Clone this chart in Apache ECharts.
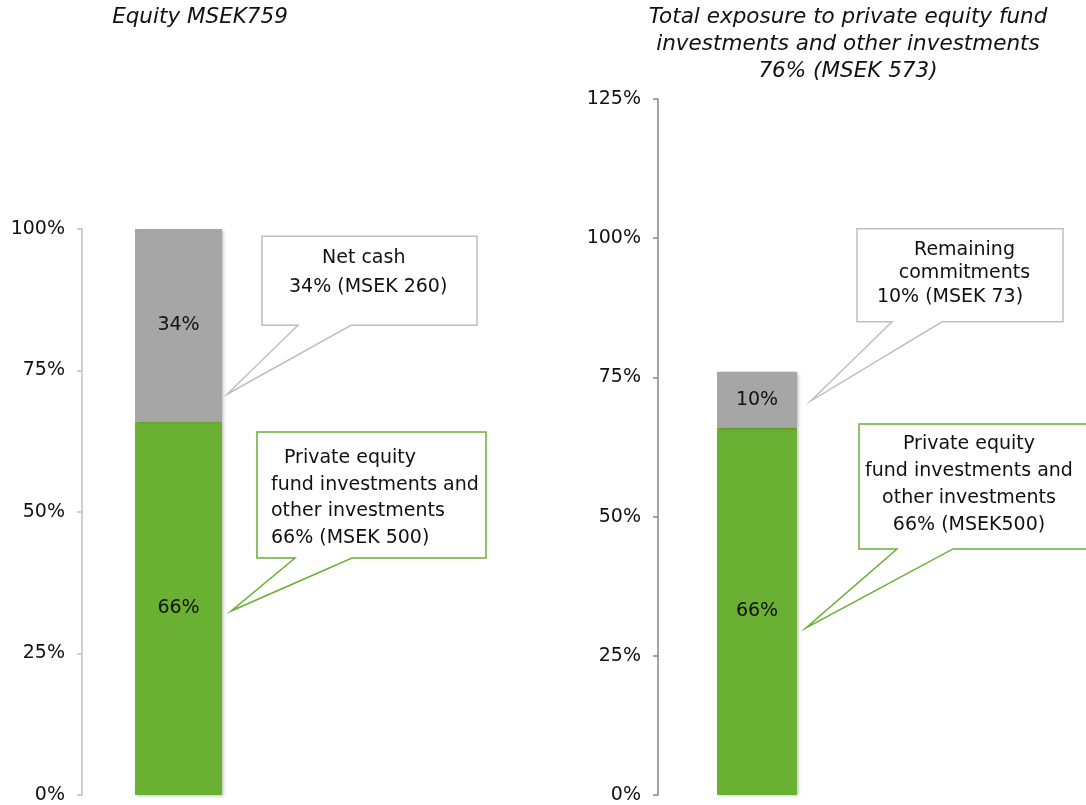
<!DOCTYPE html>
<html>
<head>
<meta charset="utf-8">
<script src="https://cdn.jsdelivr.net/npm/echarts@6/dist/echarts.min.js"></script>
<style>html,body{margin:0;padding:0;background:#fff}#c{width:1086px;height:805px}</style>
</head>
<body>
<div id="c"></div>
<script>
// ---- data ----
const leftCategories = ['Equity'];
const rightCategories = ['Exposure'];
const leftPrivateEquity = [66];
const leftNetCash = [34];
const rightPrivateEquity = [66];
const rightCommitments = [10];
const leftTicks = [0, 25, 50, 75, 100];
const rightTicks = [0, 25, 50, 75, 100, 125];

const titleLeft = 'Equity MSEK759';
const titleRight = 'Total exposure to private equity fund\ninvestments and other investments\n76% (MSEK 573)';

const GREEN = '#6AB032';
const GRAY = '#A6A6A6';
const TXT = '#111111';
const FONT = '"DejaVu Sans", Verdana, sans-serif';
const FS = 19;

const chart = echarts.init(document.getElementById('c'));

function yAxis(gi, max, color) {
  return {
    type: 'value', gridIndex: gi, min: 0, max: max, interval: 25,
    splitLine: { show: false },
    axisLine: { show: true, lineStyle: { color: color, width: 1.5 } },
    axisTick: { show: true, length: 5, lineStyle: { color: color, width: 1.5 } },
    axisLabel: { formatter: '{value}%', color: TXT, fontSize: FS, fontFamily: FONT, margin: 17 }
  };
}
function barSeries(name, xi, stack, data, color) {
  return {
    name: name, type: 'bar', xAxisIndex: xi, yAxisIndex: xi, stack: stack,
    data: data, barWidth: xi === 0 ? 87 : 80,
    itemStyle: { color: color, shadowColor: 'rgba(0,0,0,0.25)', shadowBlur: 3, shadowOffsetX: 1.5, shadowOffsetY: 1 },
    label: { show: true, position: 'inside', formatter: '{c}%', color: TXT, fontSize: FS, fontFamily: FONT },
    emphasis: { disabled: true }
  };
}

chart.setOption({
  animation: false,
  grid: [
    { left: 82, top: 229, width: 193, bottom: 10, containLabel: false },
    { left: 658, top: 99, width: 198, bottom: 10, containLabel: false }
  ],
  xAxis: [
    { type: 'category', gridIndex: 0, data: leftCategories, show: false },
    { type: 'category', gridIndex: 1, data: rightCategories, show: false }
  ],
  yAxis: [yAxis(0, leftTicks[leftTicks.length - 1], '#BFBFBF'), yAxis(1, rightTicks[rightTicks.length - 1], '#868686')],
  series: [
    barSeries('Private equity', 0, 'L', leftPrivateEquity, GREEN),
    barSeries('Net cash', 0, 'L', leftNetCash, GRAY),
    barSeries('Private equity', 1, 'R', rightPrivateEquity, GREEN),
    barSeries('Remaining commitments', 1, 'R', rightCommitments, GRAY)
  ]
});

// ---- callouts anchored to the bars ----
function callout(gi, cat, value, tipDx, box, tail, color) {
  const p = chart.convertToPixel({ gridIndex: gi }, [cat, value]);
  const tx = p[0] + tipDx, ty = p[1];
  const x1 = tx + box[0], x2 = tx + box[1], y1 = ty + box[2], y2 = ty + box[3];
  return {
    origin: [tx, ty],
    el: {
      type: 'polygon', z: 10,
      shape: { points: [[x1, y1], [x2, y1], [x2, y2], [tx + tail[1], y2], [tx, ty], [tx + tail[0], y2], [x1, y2]] },
      style: { fill: '#fff', stroke: color, lineWidth: 1.5 }
    }
  };
}
function txt(x, y, s, align) {
  return { type: 'text', z: 11, style: { x: x, y: y, text: s, fill: TXT, fontSize: FS, fontFamily: FONT, align: align || 'left', verticalAlign: 'middle' } };
}

const c1 = callout(0, 0, 70.8, 48.5, [35, 250, -158, -69], [71, 124], '#BFBFBF');
const c2 = callout(0, 0, 32.5, 52.5, [26, 255, -179, -53], [64, 121], GREEN);
const c3 = callout(1, 0, 70.8, 54, [46, 252, -172, -79], [81, 131], '#BFBFBF');
const c4 = callout(1, 0, 30.0, 49, [53, 300, -204, -79], [91, 147], GREEN);

const o1 = c1.origin, o2 = c2.origin, o3 = c3.origin, o4 = c4.origin;
const graphics = [
  { type: 'text', style: { x: 200, y: 4, text: titleLeft, fill: TXT, fontSize: 21.5, fontStyle: 'italic', fontFamily: FONT, align: 'center', verticalAlign: 'top', lineHeight: 27 } },
  { type: 'text', style: { x: 848, y: 4, text: titleRight, fill: TXT, fontSize: 21.5, fontStyle: 'italic', fontFamily: FONT, align: 'center', verticalAlign: 'top', lineHeight: 27 } },
  c1.el, c2.el, c3.el, c4.el,
  txt(o1[0] + 95, o1[1] - 136, 'Net cash'),
  txt(o1[0] + 62, o1[1] - 107, '34% (MSEK 260)'),
  txt(o2[0] + 53, o2[1] - 153, 'Private equity'),
  txt(o2[0] + 40, o2[1] - 126, 'fund investments and'),
  txt(o2[0] + 40, o2[1] - 100, 'other investments'),
  txt(o2[0] + 40, o2[1] - 73, '66% (MSEK 500)'),
  txt(o3[0] + 153.5, o3[1] - 151, 'Remaining', 'center'),
  txt(o3[0] + 153.5, o3[1] - 128, 'commitments', 'center'),
  txt(o3[0] + 139, o3[1] - 104, '10% (MSEK 73)', 'center'),
  txt(o4[0] + 163, o4[1] - 184, 'Private equity', 'center'),
  txt(o4[0] + 163, o4[1] - 157, 'fund investments and', 'center'),
  txt(o4[0] + 163, o4[1] - 130, 'other investments', 'center'),
  txt(o4[0] + 163, o4[1] - 103, '66% (MSEK500)', 'center')
];
chart.setOption({ graphic: graphics });
</script>
</body>
</html>
